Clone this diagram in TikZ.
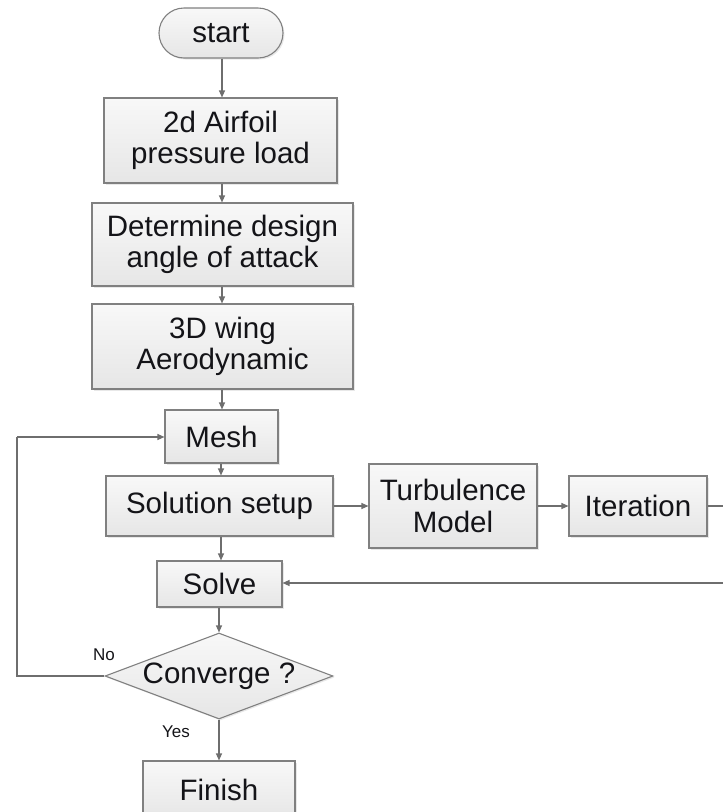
\documentclass[tikz,border=0pt]{standalone}
\usepackage{fontspec}
\setmainfont{Liberation Sans}
\usetikzlibrary{shapes.geometric,arrows.meta,shadows}
\definecolor{edgegray}{HTML}{808080}
\definecolor{linegray}{HTML}{6E6E6E}
\definecolor{filltop}{HTML}{F8F8F8}
\definecolor{fillbot}{HTML}{E6E6E6}
\definecolor{txt}{HTML}{141418}
\begin{document}
\begin{tikzpicture}[x=1pt,y=-1pt,
  flowbox/.style={draw=edgegray, line width=1.1pt, top color=filltop, bottom color=fillbot,
    inner sep=0pt, align=center, text=txt, font=\fontsize{29.5}{31.5}\selectfont,
    drop shadow={shadow xshift=1.5pt, shadow yshift=-1.5pt, opacity=0.18}},
  terminal/.style={flowbox, rounded corners=25pt},
  decision/.style={flowbox, diamond, aspect=2.65},
  conn/.style={draw=linegray, line width=1.2pt},
  arr/.style={conn, -{Triangle[length=7pt,width=6pt]}},
  lab/.style={text=txt, font=\fontsize{17}{19}\selectfont}
]
\useasboundingbox (0,0) rectangle (723,812);
\clip (0,0) rectangle (723,812);

\node[terminal, minimum width=124pt, minimum height=50pt] (start) at (221,33) {start};
\node[flowbox, minimum width=233pt, minimum height=85pt] (airfoil) at (220.5,140.5) {2d Airfoil\\pressure load};
\node[flowbox, minimum width=261pt, minimum height=83pt] (angle) at (222.5,244.5) {Determine design\\angle of attack};
\node[flowbox, minimum width=261pt, minimum height=85pt] (wing) at (222.5,346.5) {3D wing\\Aerodynamic};
\node[flowbox, minimum width=113pt, minimum height=53pt] (mesh) at (221.5,436.5) {Mesh};
\node[flowbox, minimum width=227pt, minimum height=60pt] (setup) at (219.5,506) {Solution setup};
\node[flowbox, minimum width=168pt, minimum height=84pt] (turb) at (453,506) {Turbulence\\Model};
\node[flowbox, minimum width=138pt, minimum height=60pt] (iter) at (638,506) {Iteration};
\node[flowbox, minimum width=125pt, minimum height=46pt] (solve) at (219.5,584) {Solve};
\node[decision, minimum width=228pt, minimum height=86pt] (conv) at (219,676) {Converge ?};
\node[flowbox, minimum width=152pt, minimum height=58pt] (finish) at (219,790) {Finish};

\coordinate (rtop) at (730,506);
\coordinate (rbot) at (730,583);
\coordinate (lbot) at (17,676);
\coordinate (ltop) at (17,437);

\draw[arr] (start.south -| 222,0) -- (airfoil.north -| 222,0);
\draw[arr] (airfoil.south -| 222,0) -- (angle.north -| 222,0);
\draw[arr] (angle.south -| 222,0) -- (wing.north -| 222,0);
\draw[arr] (wing.south -| 222,0) -- (mesh.north -| 222,0);
\draw[arr] (mesh.south -| 221,0) -- (setup.north -| 221,0);
\draw[arr] (setup.east) -- (turb.west);
\draw[arr] (turb.east) -- (iter.west);
\draw[conn] (iter.east) -- (rtop) -- (rbot);
\draw[arr] (rbot) -- (solve.east |- rbot);
\draw[arr] (setup.south -| 221,0) -- (solve.north -| 221,0);
\draw[arr] (solve.south -| 219,0) -- (conv.north);
\draw[conn] (conv.west) -- (lbot) -- (ltop);
\draw[arr] (ltop) -- (mesh.west |- ltop);
\draw[arr] (conv.south) -- (finish.north);

\node[lab] (no) at (104,655) {No};
\node[lab] (yes) at (176,732) {Yes};
\end{tikzpicture}
\end{document}
